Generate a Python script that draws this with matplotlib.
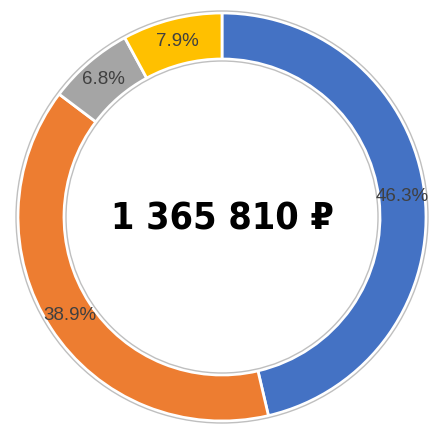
import matplotlib.pyplot as plt
from matplotlib.patches import Circle

# data
labels = ["46.3%", "38.9%", "6.8%", "7.9%"]
shares = [46.3, 38.9, 6.8, 7.9]
colors = ["#4472C4", "#ED7D31", "#A5A5A5", "#FFC000"]
total_text = "1 365 810 ₽"

W, H = 429, 424
cx, cy = 222, H - 217
r_out, width = 204, 46

fig = plt.figure(figsize=(W / 100, H / 100), dpi=100)
ax = fig.add_axes([0, 0, 1, 1])

wedges, texts = ax.pie(shares, colors=colors, startangle=90, counterclock=False,
                       center=(cx, cy), radius=r_out, labels=labels,
                       labeldistance=(r_out - width / 2) / r_out,
                       wedgeprops=dict(width=width, edgecolor="white", linewidth=2),
                       textprops=dict(color="#404040", fontsize=13.5,
                                      family=["Liberation Sans", "DejaVu Sans"]),
                       frame=True)
for t in texts:
    t.set_ha("center")
    t.set_va("center")

# thin grey outlines around the ring
ax.add_patch(Circle((cx, cy), r_out + 2, fill=False, edgecolor="#BFBFBF", lw=1))
ax.add_patch(Circle((cx, cy), r_out - width - 2, fill=False, edgecolor="#BFBFBF", lw=1))

ax.set_xlim(0, W)
ax.set_ylim(0, H)
ax.set_aspect("equal")
ax.axis("off")

ax.text(cx, cy - 3, total_text, ha="center", va="center", fontsize=27,
        fontweight="bold", fontstretch="condensed",
        family=["DejaVu Sans", "Liberation Sans"])

fig.savefig("out.png", dpi=100)
